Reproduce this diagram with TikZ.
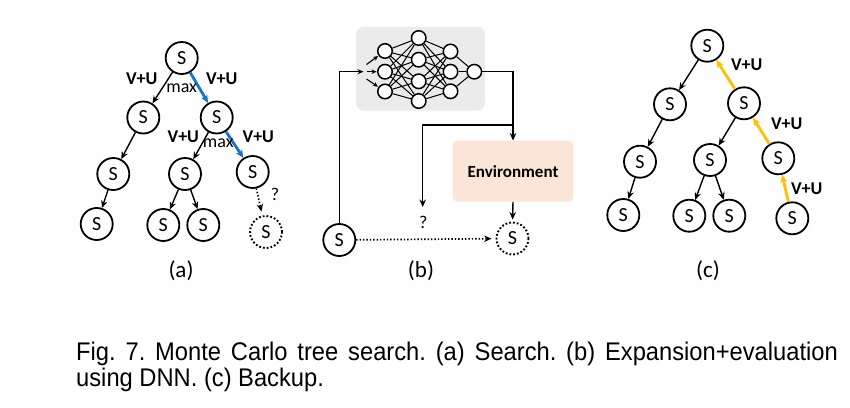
\documentclass[tikz,border=0pt]{standalone}
\usepackage{fontspec}
\usepackage{graphicx}
\setmainfont{Carlito}
\newfontfamily\capfont{Liberation Sans}
\usetikzlibrary{arrows.meta}
\frenchspacing
\definecolor{bluee}{HTML}{1874C6}
\definecolor{yel}{HTML}{FFC000}
\definecolor{nngray}{HTML}{EBEBEB}
\definecolor{envc}{HTML}{FBE5D6}
\definecolor{bgc}{HTML}{FEFEFE}
\tikzset{
  snode/.style={circle, draw, line width=1.8pt, minimum size=32pt, inner sep=0pt, font=\fontsize{20}{20}\selectfont},
  dnode/.style={snode, dotted, line width=1.9pt},
  tr/.style={-{Stealth[length=7.5pt,width=6.5pt]}, line width=1.4pt},
  bl/.style={-{Stealth[length=8pt,width=7pt]}, line width=2.8pt, draw=bluee},
  yl/.style={-{Stealth[length=8pt,width=7pt]}, line width=2.8pt, draw=yel},
  lbl/.style={font=\bfseries\fontsize{18}{18}\selectfont, inner sep=0pt},
  mx/.style={font=\fontsize{18}{18}\selectfont, inner sep=0pt},
  nn/.style={circle, draw, line width=1.5pt, minimum size=14.5pt, inner sep=0pt, fill=white},
  nnl/.style={line width=1pt},
  sub/.style={font=\fontsize{23}{23}\selectfont, inner sep=0pt},
  capt/.style={anchor=base west, inner sep=0pt, font=\capfont\fontsize{25.5}{26}\selectfont},
}
\begin{document}
\begin{tikzpicture}[x=1pt,y=-1pt]
\useasboundingbox (0,0) rectangle (850,407);
\fill[white] (0,0) rectangle (850,407);
\node[fill=bgc, rounded corners=4pt, minimum width=753pt, minimum height=279pt, inner sep=0pt] (bg) at (455.5,160.5) {};

% ---------- (a) ----------
\node[snode] (a0) at (181.7,58) {S};
\node[snode] (a1) at (143.3,117.5) {S};
\node[snode] (a2) at (216.7,117.5) {S};
\node[snode] (a3) at (113.3,174) {S};
\node[snode] (a4) at (185,174) {S};
\node[snode] (a5) at (252.7,172) {S};
\node[snode] (a6) at (96.7,224) {S};
\node[snode] (a7) at (163.3,225) {S};
\node[snode] (a8) at (203.3,225) {S};
\node[dnode] (a9) at (266,232) {S};
\draw[tr] (a0) -- (a1);
\draw[bl] (a0) -- (a2);
\draw[tr] (a1) -- (a3);
\draw[tr] (a3) -- (a6);
\draw[tr] (a2) -- (a4);
\draw[bl] (a2) -- (a5);
\draw[tr] (a4) -- (a7);
\draw[tr] (a4) -- (a8);
\draw[tr, dotted, line width=1.7pt, shorten >=4pt] (a5) -- (a9);
\node[lbl] (la1) at (141.7,79) {V+U};
\node[mx] (lm1) at (181.7,88) {max};
\node[lbl] (la2) at (221.7,79) {V+U};
\node[lbl] (la3) at (183.3,137) {V+U};
\node[mx] (lm2) at (218.3,143) {max};
\node[lbl] (la4) at (258.3,137) {V+U};
\node[mx] (lq1) at (275,194) {?};
\node[sub] (suba) at (181,271) {(a)};

% ---------- (b) ----------
\node[fill=nngray, rounded corners=8pt, minimum width=129pt, minimum height=84pt, inner sep=0pt] (nnbox) at (420.5,68.7) {};
\node[nn] (i1) at (385,51) {};
\node[nn] (i2) at (385,71.7) {};
\node[nn] (i3) at (385,91.5) {};
\node[nn] (h1) at (418.7,38) {};
\node[nn] (h2) at (418.7,59.7) {};
\node[nn] (h3) at (418.7,81.3) {};
\node[nn] (h4) at (418.7,101) {};
\node[nn] (g1) at (450.5,51.5) {};
\node[nn] (g2) at (450.5,71.7) {};
\node[nn] (g3) at (450.5,91.3) {};
\node[nn] (o1) at (474.3,71.7) {};
\foreach \i in {i1,i2,i3}{\foreach \h in {h1,h2,h3,h4}{\draw[nnl] (\i) -- (\h);}}
\foreach \h in {h1,h2,h3,h4}{\foreach \g in {g1,g2,g3}{\draw[nnl] (\h) -- (\g);}}
\foreach \g in {g1,g2,g3}{\draw[nnl] (\g) -- (o1);}
\coordinate (s1) at (366.5,64.5);
\coordinate (s2) at (367,71.7);
\coordinate (s3) at (366.5,79);
\draw[-{Stealth[length=5pt,width=4.5pt]}, line width=1.1pt, shorten >=0.5pt] (s1) -- (i1);
\draw[-{Stealth[length=5pt,width=4.5pt]}, line width=1.1pt, shorten >=0.5pt] (s2) -- (i2);
\draw[-{Stealth[length=5pt,width=4.5pt]}, line width=1.1pt, shorten >=0.5pt] (s3) -- (i3);

\node[snode] (sb) at (339.3,240) {S};
\node[dnode] (ds) at (512.5,238.5) {S};
\node[fill=envc, rounded corners=5pt, minimum width=120.6pt, minimum height=61pt, inner sep=0pt, font=\bfseries\fontsize{17}{17}\selectfont] (env) at (513,171.2) {Environment};
\coordinate (inA) at (363.5,71.7);
\draw[-{Stealth[length=6pt,width=5pt]}, line width=1.4pt] (sb.north) |- (inA);
\coordinate (oc) at (513,71.7);
\coordinate (br) at (513,125);
\coordinate (qq) at (422.7,207);
\draw[tr] (o1) -- (oc) -- (env.north);
\draw[tr] (br) -| (qq);
\node[mx] (lq2) at (423.3,222) {?};
\draw[tr, shorten >=2pt] (env.south) -- (ds.north);
\draw[tr, dotted, line width=1.7pt, shorten >=4pt] (sb) -- (ds);
\node[sub] (subb) at (421,271) {(b)};

% ---------- (c) ----------
\node[snode] (c0) at (707.3,45.7) {S};
\node[snode] (c1) at (670,104.3) {S};
\node[snode] (c2) at (744,103.3) {S};
\node[snode] (c3) at (640,161.7) {S};
\node[snode] (c4) at (710,160) {S};
\node[snode] (c5) at (778.3,158.3) {S};
\node[snode] (c6) at (623.3,215) {S};
\node[snode] (c7) at (689.3,215.7) {S};
\node[snode] (c8) at (729.3,215.7) {S};
\node[snode] (c9) at (792.3,218.3) {S};
\draw[tr] (c0) -- (c1);
\draw[tr] (c1) -- (c3);
\draw[tr] (c3) -- (c6);
\draw[tr] (c2) -- (c4);
\draw[tr] (c4) -- (c7);
\draw[tr] (c4) -- (c8);
\draw[yl] (c2) -- (c0);
\draw[yl] (c5) -- (c2);
\draw[yl] (c9) -- (c5);
\node[lbl] (lc1) at (746.7,64.3) {V+U};
\node[lbl] (lc2) at (786.7,123.3) {V+U};
\node[lbl] (lc3) at (806.7,188.3) {V+U};
\node[sub] (subc) at (708,271) {(c)};

% ---------- caption ----------
\node[capt] (cap1) at (76,360.3) {\scalebox{0.93}[1]{\hbox to 819pt{Fig. 7. Monte Carlo tree search. (a) Search. (b) Expansion+evaluation}}};
\node[capt] (cap2) at (76,386.3) {\scalebox{0.93}[1]{using DNN. (c) Backup.}};
\end{tikzpicture}
\end{document}
